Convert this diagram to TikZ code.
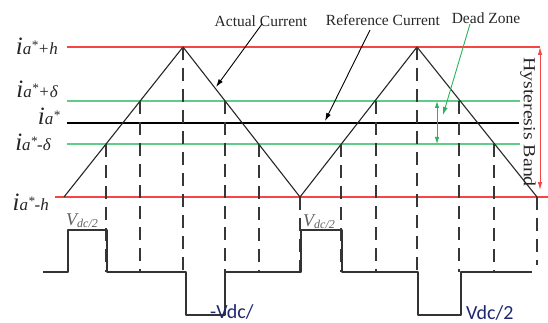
\documentclass[tikz,border=0pt]{standalone}
\usepackage{fontspec}
\setmainfont{Liberation Serif}
\newfontfamily\calibfont{Carlito}
\usetikzlibrary{arrows.meta}
\definecolor{bandred}{RGB}{245,70,70}
\definecolor{dzgreen}{RGB}{95,205,135}
\definecolor{dzarrow}{RGB}{40,180,90}
\definecolor{dashgray}{RGB}{55,55,55}
\definecolor{vgray}{RGB}{95,95,95}
\definecolor{navyblue}{RGB}{30,40,110}
\newcommand{\ilabel}[1]{{\fontsize{25}{25}\selectfont\itshape i}{\fontsize{17}{17}\selectfont\itshape a\raisebox{5pt}{\fontsize{13}{13}\selectfont *}#1}}
\newcommand{\vdclabel}{{\fontsize{18}{18}\selectfont\itshape V}{\fontsize{12}{12}\selectfont\itshape\raisebox{-2pt}{dc/2}}}
\begin{document}
\begin{tikzpicture}[x=1pt,y=-1pt,line join=round,
  band/.style={draw=bandred, line width=1.6pt},
  dzline/.style={draw=dzgreen, line width=2pt},
  refline/.style={draw=black, line width=1.1pt},
  wave/.style={draw=black!85, line width=1.1pt},
  guide/.style={draw=dashgray, line width=1.2pt, dash pattern=on 13pt off 8pt},
  pulse/.style={draw=black!80, line width=1.2pt},
  lbl/.style={inner sep=0pt, text=black!85},
  toplbl/.style={inner sep=0pt, font=\fontsize{15.5}{15.5}\selectfont, text=black!85},
  ptr/.style={-{Latex[length=8pt,width=5pt]}, line width=0.9pt},
  vlbl/.style={inner sep=0pt, text=vgray},
  vdc/.style={inner sep=0pt, text=navyblue, font=\calibfont\fontsize{20}{20}\selectfont}]
\useasboundingbox (0,0) rectangle (548,323);
\clip (0,0) rectangle (548,323);

% horizontal bands
\draw[band] (67,47) -- (540,47);
\draw[band] (55,197) -- (548,197);
\draw[dzline] (67,101) -- (520,101);
\draw[dzline] (67,144) -- (520,144);
\draw[refline] (67,123) -- (519,123);

% triangle current
\coordinate (T0) at (64,197);
\coordinate (P1) at (183,47);
\coordinate (T1) at (300,197);
\coordinate (P2) at (417,47);
\coordinate (T2) at (537,197);
\draw[wave] (T0) -- (P1) -- (T1) -- (P2) -- (T2);

% dashed guides
\foreach \x/\y in {106/144,140/101,183/47,225/101,259/144,300/197,341/144,376/101,417/47,459/101,494/144}
  \draw[guide] (\x,\y) -- (\x,272);
\draw[guide] (537,197) -- (537,265);

% switching pulses
\draw[pulse] (43,272) -- (68,272) -- (68,230) -- (107,230) -- (107,272) -- (186,272) -- (186,315) -- (225,315) -- (225,272)
  -- (301,272) -- (301,230) -- (342,230) -- (342,272) -- (418,272) -- (418,315) -- (461,315) -- (461,272) -- (532,272);

% left labels
\node[lbl, anchor=base east] (lh) at (58,55) {\ilabel{+h}};
\node[lbl, anchor=base east] (ld) at (58,98) {\ilabel{+δ}};
\node[lbl, anchor=base east] (lr) at (60,125) {\ilabel{}};
\node[lbl, anchor=base east] (lmd) at (51,150) {\ilabel{-δ}};
\node[lbl, anchor=base east] (lmh) at (49,210) {\ilabel{-h}};

% pulse labels
\node[vlbl, anchor=base west] (v1) at (66,225) {\vdclabel};
\node[vlbl, anchor=base west] (v2) at (303,226) {\vdclabel};
\node[vdc, anchor=base west] (m1) at (210,318) {-Vdc/};
\node[vdc, anchor=base west] (m2) at (466,319) {Vdc/2};

% top labels and pointers
\node[toplbl, anchor=base] (ac) at (261,27) {Actual Current};
\node[toplbl, anchor=base] (rc) at (383,26) {Reference Current};
\node[toplbl, anchor=base] (dz) at (486,24) {Dead Zone};
\coordinate (acs) at (262,24);
\coordinate (ace) at (216,87);
\coordinate (rcs) at (370,30);
\coordinate (rce) at (325,121);
\coordinate (dzs) at (470,24);
\coordinate (dze) at (443,115);
\draw[ptr, black] (acs) -- (ace);
\draw[ptr, black] (rcs) -- (rce);
\draw[ptr, dzarrow] (dzs) -- (dze);

% dead zone span
\coordinate (dzt) at (437,101);
\coordinate (dzb) at (437,144);
\draw[{Latex[length=7pt,width=4.5pt]}-{Latex[length=7pt,width=4.5pt]}, dzarrow, line width=0.9pt] (dzt) -- (dzb);

% hysteresis band
\coordinate (hbt) at (540,47);
\coordinate (hbb) at (540,190);
\draw[{Latex[length=8pt,width=4.5pt]}-{Latex[length=8pt,width=4.5pt]}, bandred, line width=0.9pt] (hbt) -- (hbb);
\node[inner sep=0pt, rotate=-90, text=black!85, font=\fontsize{17}{17}\selectfont] (hb) at (528,122) {\scalebox{1.17}[1]{Hysteresis Band}};
\end{tikzpicture}
\end{document}
